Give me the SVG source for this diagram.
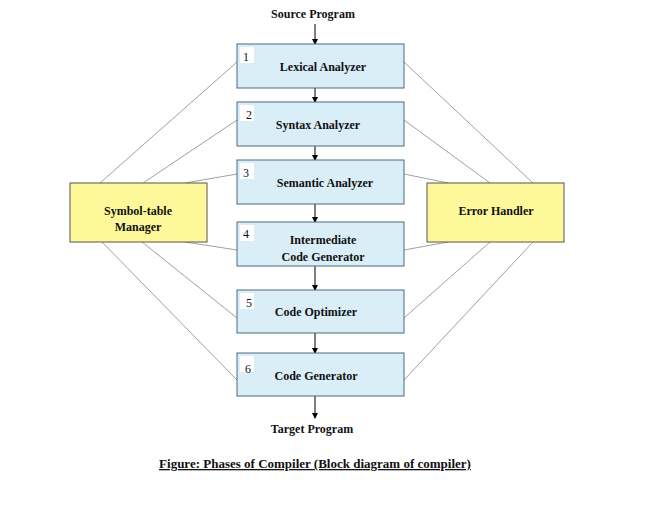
<svg xmlns="http://www.w3.org/2000/svg" width="662" height="515" viewBox="0 0 662 515">
<defs><marker id="ah" markerWidth="6" markerHeight="6" refX="5" refY="3" orient="auto" markerUnits="userSpaceOnUse"><path d="M0,0 L6,3 L0,6 z" fill="#000"/></marker></defs>
<style>
text{font-family:"Liberation Serif",serif;font-weight:bold;font-size:12px;fill:#111}
.p{fill:#daeef8;stroke:#4a6a80;stroke-width:1}
.y{fill:#fdf99b;stroke:#555;stroke-width:1}
.n{font-weight:normal;font-size:12px}
.c line{stroke:#888;stroke-width:0.8}
.a line{stroke:#000;stroke-width:1;marker-end:url(#ah)}
</style>
<rect width="662" height="515" fill="#fff"/>
<g class="c">
<line x1="100" y1="183" x2="237" y2="62"/><line x1="143" y1="183" x2="237" y2="120"/><line x1="185" y1="183" x2="237" y2="174"/>
<line x1="185" y1="242" x2="237" y2="250"/><line x1="142" y1="242" x2="237" y2="318"/><line x1="102" y1="242" x2="237" y2="380"/>
<line x1="404" y1="62" x2="533" y2="183"/><line x1="404" y1="120" x2="490" y2="183"/><line x1="404" y1="174" x2="448" y2="183"/>
<line x1="404" y1="250" x2="448" y2="242"/><line x1="404" y1="318" x2="490" y2="242"/><line x1="404" y1="380" x2="533" y2="242"/>
</g>
<g class="a">
<line x1="315" y1="24" x2="315" y2="44"/><line x1="315" y1="88" x2="315" y2="102"/><line x1="315" y1="146" x2="315" y2="160"/>
<line x1="315" y1="204" x2="315" y2="222"/><line x1="315" y1="266" x2="315" y2="290"/><line x1="315" y1="333" x2="315" y2="353"/>
<line x1="315" y1="396" x2="315" y2="418"/>
</g>
<text x="313" y="18" text-anchor="middle">Source Program</text>
<g id="n1"><rect class="p" x="237" y="44" width="167" height="44"/><rect x="240" y="47" width="14" height="16" fill="#fff"/><text class="n" x="243" y="61">1</text><text x="323" y="71" text-anchor="middle">Lexical Analyzer</text></g>
<g id="n2"><rect class="p" x="237" y="102" width="167" height="44"/><rect x="240" y="105" width="14" height="16" fill="#fff"/><text class="n" x="246" y="119">2</text><text x="318" y="129" text-anchor="middle">Syntax Analyzer</text></g>
<g id="n3"><rect class="p" x="237" y="160" width="167" height="44"/><rect x="240" y="163" width="14" height="16" fill="#fff"/><text class="n" x="243" y="177">3</text><text x="325" y="187" text-anchor="middle">Semantic Analyzer</text></g>
<g id="n4"><rect class="p" x="237" y="222" width="167" height="44"/><rect x="240" y="225" width="14" height="16" fill="#fff"/><text class="n" x="243" y="238">4</text><text x="323" y="244" text-anchor="middle">Intermediate</text><text x="323" y="261" text-anchor="middle">Code Generator</text></g>
<g id="n5"><rect class="p" x="237" y="290" width="167" height="43"/><rect x="240" y="293" width="14" height="16" fill="#fff"/><text class="n" x="246" y="307">5</text><text x="316" y="316" text-anchor="middle">Code Optimizer</text></g>
<g id="n6"><rect class="p" x="237" y="353" width="167" height="43"/><rect x="240" y="356" width="14" height="16" fill="#fff"/><text class="n" x="245" y="373">6</text><text x="316" y="380" text-anchor="middle">Code Generator</text></g>
<g id="sym"><rect class="y" x="70" y="183" width="137" height="59"/><text x="138" y="215" text-anchor="middle">Symbol-table</text><text x="138" y="231" text-anchor="middle">Manager</text></g>
<g id="err"><rect class="y" x="427" y="183" width="137" height="59"/><text x="496" y="215" text-anchor="middle">Error Handler</text></g>
<text x="312" y="433" text-anchor="middle">Target Program</text>
<text x="315" y="468" text-anchor="middle" font-size="13" text-decoration="underline" style="font-size:13px">Figure: Phases of Compiler (Block diagram of compiler)</text>
</svg>
